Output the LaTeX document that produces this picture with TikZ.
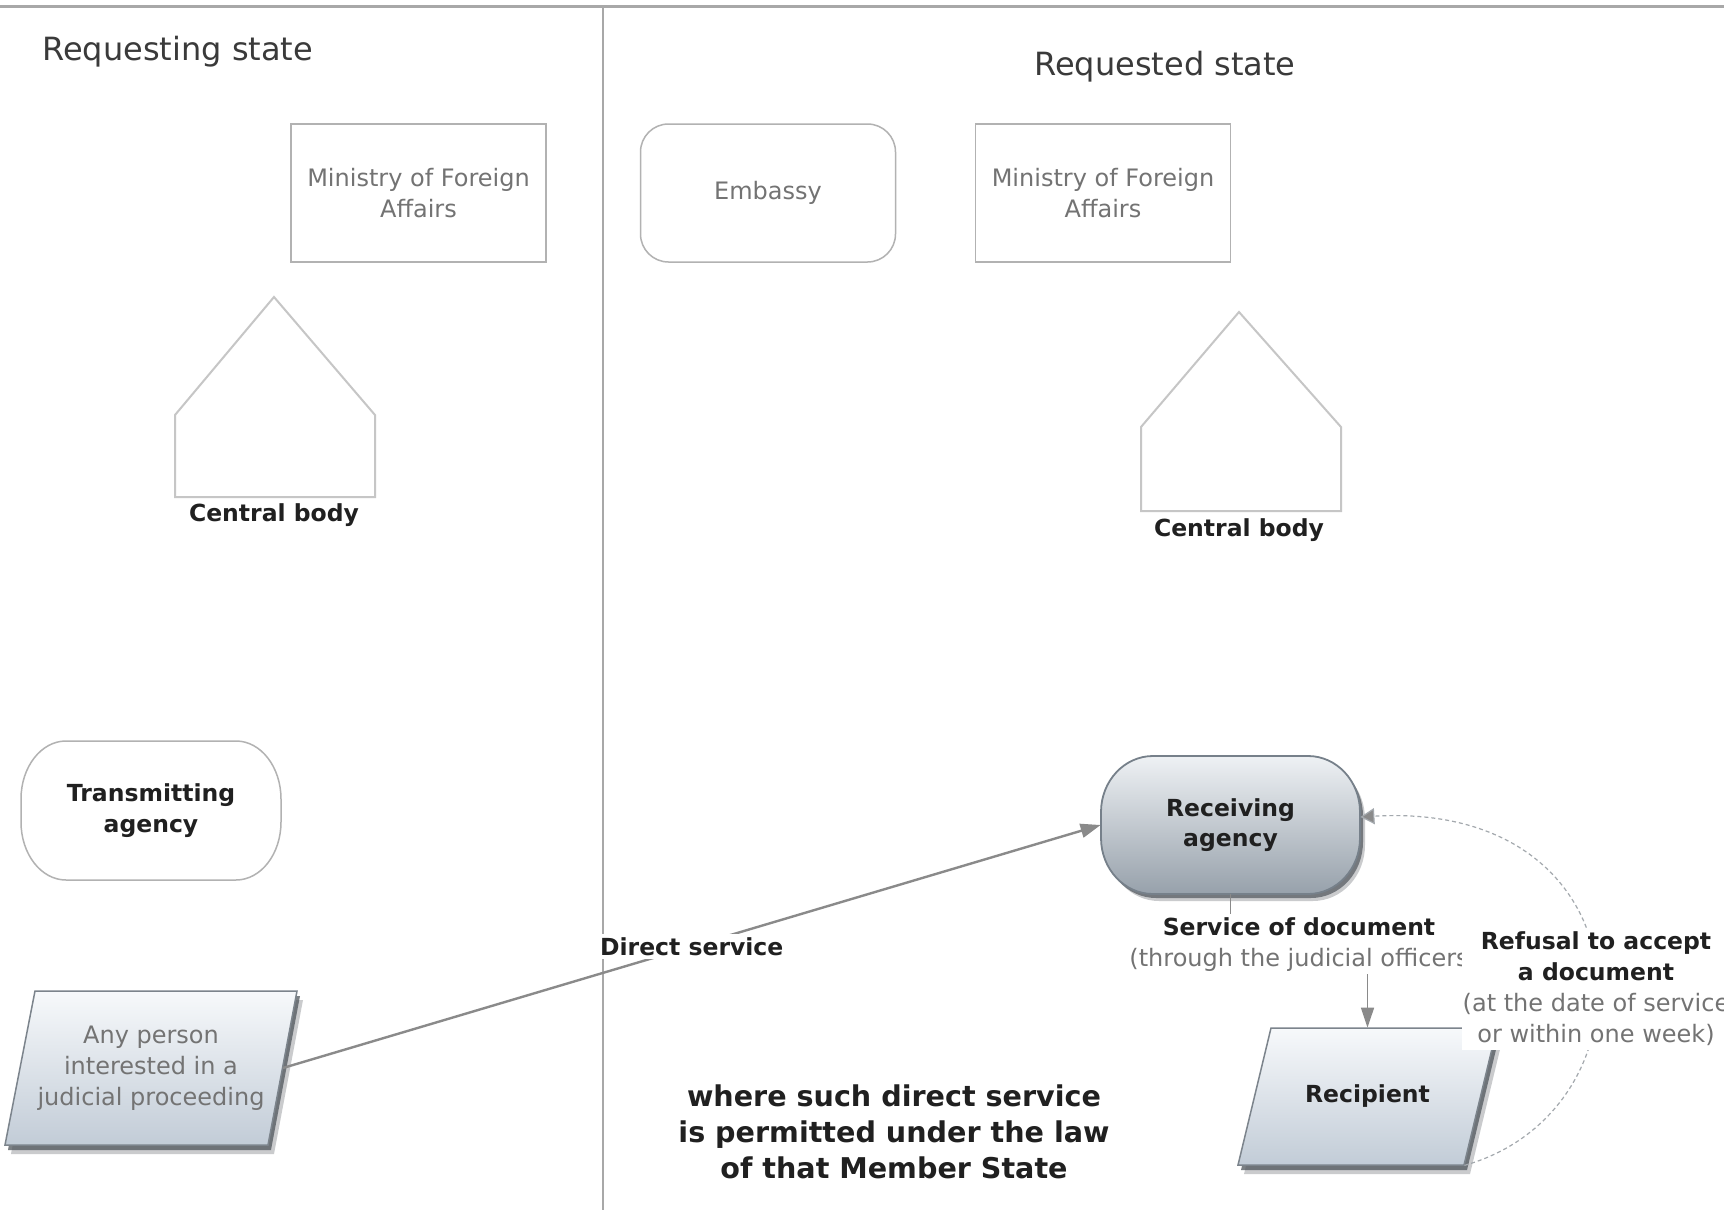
\documentclass[tikz,border=0pt]{standalone}
\usepackage{fontspec}
\setmainfont{DejaVu Sans}
\usetikzlibrary{arrows.meta}

\definecolor{rulegray}{HTML}{A8A8A8}
\definecolor{boxline}{HTML}{B2B2B2}
\definecolor{houseline}{HTML}{C6C6C6}
\definecolor{softtext}{HTML}{737373}
\definecolor{titletext}{HTML}{3A3A3A}
\definecolor{boldtext}{HTML}{202020}
\definecolor{connline}{HTML}{8A8A8A}
\definecolor{dashline}{HTML}{A4A9AE}
\definecolor{agencytop}{HTML}{EEF1F4}
\definecolor{agencybot}{HTML}{97A1AB}
\definecolor{agencyline}{HTML}{76808A}
\definecolor{partytop}{HTML}{F7F9FB}
\definecolor{partybot}{HTML}{C2CCD7}
\definecolor{partyline}{HTML}{7C848C}
\definecolor{shadowgray}{HTML}{50565C}

% rectangle with elliptic corners: x0 y0 x1 y1 rx ry style
\newcommand\roundslab[7]{%
  \path[#7] (#1+#5,#2) -- (#3-#5,#2)
    arc[start angle=-90,end angle=0,x radius=#5,y radius=#6]
    -- (#3,#4-#6)
    arc[start angle=0,end angle=90,x radius=#5,y radius=#6]
    -- (#1+#5,#4)
    arc[start angle=90,end angle=180,x radius=#5,y radius=#6]
    -- (#1,#2+#6)
    arc[start angle=180,end angle=270,x radius=#5,y radius=#6]
    -- cycle;}

\begin{document}
\begin{tikzpicture}[x=0.5pt,y=-0.5pt,
  every node/.style={inner sep=0pt},
  titletxt/.style={font=\fontsize{16}{19}\selectfont,text=titletext},
  officebox/.style={draw=boxline,line width=0.75pt,minimum width=127.5pt,minimum height=69pt,
    align=center,text=softtext,font=\fontsize{12}{15.5}\selectfont},
  housecap/.style={font=\bfseries\fontsize{11.75}{14}\selectfont,text=boldtext},
  house/.style={draw=houseline,line width=1pt,line join=miter},
  agencytxt/.style={align=center,font=\bfseries\fontsize{11.75}{15.4}\selectfont,text=boldtext},
  partytxt/.style={align=center,font=\fontsize{12}{15.5}\selectfont,text=softtext},
  edgelabel/.style={fill=white,inner sep=1.5pt,align=center,
    font=\fontsize{12}{15.5}\selectfont,text=boldtext},
  boldline/.style={font=\bfseries\fontsize{11.75}{15.5}\selectfont},
  shadowfill/.style={fill=shadowgray,draw=none},
  partyshape/.style={top color=partytop,bottom color=partybot,draw=partyline,line width=0.75pt},
]
\useasboundingbox (0,0) rectangle (1724,1215);
\fill[white] (0,0) rectangle (1724,1215);

% frame rules
\draw[rulegray,line width=1.5pt] (0,6) -- (1724,6);
\draw[rulegray,line width=1pt] (603,6) -- (603,1210);

% headings
\node[titletxt,anchor=base west] (reqing) at (42,60) {Requesting state};
\node[titletxt,anchor=base] (reqed) at (1165,75) {Requested state};

% foreign affairs and embassy
\node[officebox] (mfaleft) at (418.5,193) {Ministry of Foreign\\Affairs};
\node[officebox,rounded corners=14pt] (embassy) at (768,193) {Embassy};
\node[officebox] (mfaright) at (1103,193) {Ministry of Foreign\\Affairs};

% central bodies
\draw[house] (175,497) -- (175,415) -- (274,297) -- (375,415) -- (375,497) -- cycle;
\node[housecap] (cbleft) at (274,515) {Central body};
\draw[house] (1141,511) -- (1141,427) -- (1239,312) -- (1341,427) -- (1341,511) -- cycle;
\node[housecap] (cbright) at (1239,530) {Central body};

% transmitting agency
\roundslab{21}{741}{281}{880}{45}{58}{draw=boxline,line width=0.75pt,fill=white}
\node[agencytxt,minimum width=130pt,minimum height=69.5pt] (transmit) at (151,810.5) {Transmitting\\agency};

% receiving agency
\roundslab{1107}{763}{1365}{901}{52}{56}{shadowfill,opacity=0.3}
\roundslab{1104}{760}{1363}{898}{52}{56}{shadowfill,opacity=0.7}
\roundslab{1101}{756}{1360}{894}{52}{56}{top color=agencytop,bottom color=agencybot,draw=agencyline,line width=0.9pt}
\node[agencytxt,minimum width=129.5pt,minimum height=69pt] (recv) at (1230.5,825) {Receiving\\agency};

% applicant
\fill[shadowgray,opacity=0.3] (41,1000) -- (303,1000) -- (274,1154) -- (11,1154) -- cycle;
\fill[shadowgray,opacity=0.75] (38,996) -- (300,996) -- (271,1150) -- (8,1150) -- cycle;
\path[partyshape] (35,991) -- (297,991) -- (268,1145) -- (5,1145) -- cycle;
\node[partytxt,minimum width=131.5pt,minimum height=77pt] (person) at (151,1068)
  {Any person\\interested in a\\judicial proceeding};

% recipient
\fill[shadowgray,opacity=0.3] (1277,1037) -- (1503,1037) -- (1470,1174) -- (1244,1174) -- cycle;
\fill[shadowgray,opacity=0.75] (1274,1033) -- (1500,1033) -- (1467,1170) -- (1241,1170) -- cycle;
\path[partyshape] (1271,1028) -- (1497,1028) -- (1464,1165) -- (1238,1165) -- cycle;
\node[agencytxt,minimum width=96.5pt,minimum height=68.5pt] (recip) at (1367.5,1096.5) {Recipient};

% direct service
\draw[connline,line width=1.2pt,-{Triangle[length=10pt,width=7pt]}]
  (person.east) -- node[edgelabel,boldline] {Direct service} (recv.west);

% service of the document
\draw[connline,line width=0.8pt,-{Triangle[length=10pt,width=6.5pt]}]
  (recv.south) -- ++(0,50) -| node[pos=0.25,edgelabel]
  {{\bfseries\fontsize{11.75}{15.5}\selectfont Service of document}\\
   \textcolor{softtext}{(through the judicial officers}} (recip.north);

% refusal loop
\draw[dashline,line width=0.6pt,dash pattern=on 2pt off 1.5pt,
  -{Triangle[length=7pt,width=8pt,fill=connline]}]
  (recip.south east) .. controls (1660,1110) and (1650,800) .. ([yshift=4pt]recv.east);
\node[edgelabel,inner xsep=0.5pt,inner ysep=2pt] (refusal) at (1596,989)
  {{\bfseries\fontsize{11.75}{15.5}\selectfont Refusal to accept}\\
   {\bfseries\fontsize{11.75}{15.5}\selectfont a document}\\
   \textcolor{softtext}{(at the date of service}\\
   \textcolor{softtext}{or within one week)}};

% condition note
\node[align=center,font=\bfseries\fontsize{14.3}{18.1}\selectfont,text=boldtext] (permit)
  at (894,1132) {where such direct service\\is permitted under the law\\of that Member State};
\end{tikzpicture}
\end{document}
